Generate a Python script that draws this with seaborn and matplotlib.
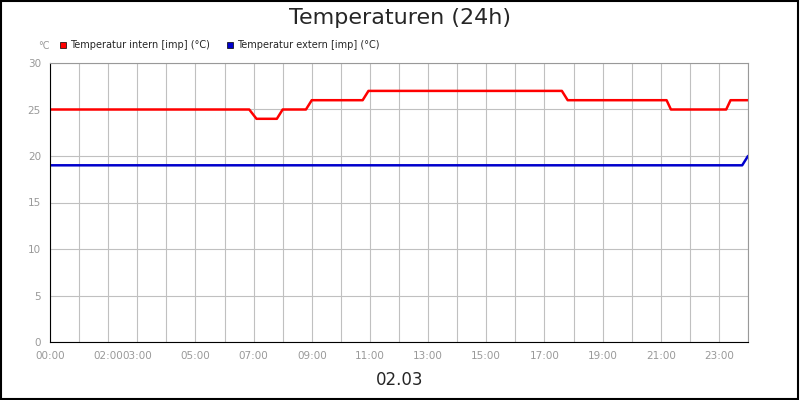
import matplotlib
matplotlib.use("Agg")
import matplotlib.pyplot as plt
import seaborn as sns
import pandas as pd

# hours since 00:00
intern_t = [0, 6.85, 7.1, 7.8, 8.0, 8.8, 9.0, 10.75, 10.95, 17.6, 17.8, 21.2, 21.35, 23.25, 23.4, 24.0]
intern_v = [25, 25, 24, 24, 25, 25, 26, 26, 27, 27, 26, 26, 25, 25, 26, 26]
extern_t = [0, 23.8, 24.0]
extern_v = [19, 19, 20]
tick_hours = [0, 2, 3, 5, 7, 9, 11, 13, 15, 17, 19, 21, 23]
tick_labels = [f"{h:02d}:00" for h in tick_hours]

sns.set_style("white")
plt.rcParams["font.family"] = ["DejaVu Sans"]

fig = plt.figure(figsize=(8, 4), dpi=100)
ax = fig.add_axes([50/800, 58/400, 698/800, 279/400])

df_i = pd.DataFrame({"t": intern_t, "v": intern_v})
df_e = pd.DataFrame({"t": extern_t, "v": extern_v})
sns.lineplot(data=df_i, x="t", y="v", ax=ax, color="#ff0000", lw=1.8, estimator=None, sort=False)
sns.lineplot(data=df_e, x="t", y="v", ax=ax, color="#0000cc", lw=1.8, estimator=None, sort=False)

ax.set_xlim(0, 24)
ax.set_ylim(0, 30)
ax.set_xticks(tick_hours)
ax.set_xticklabels(tick_labels)
ax.set_xticks(range(0, 25), minor=True)
ax.set_yticks(range(0, 31, 5))
ax.grid(True, which="both", axis="x", color="#c0c0c0", lw=0.8)
ax.grid(True, which="major", axis="y", color="#c0c0c0", lw=0.8)
ax.tick_params(axis="both", labelsize=7.5, colors="#999999", length=3)
ax.tick_params(axis="x", which="minor", length=3, colors="#999999")
ax.set_xlabel("")
ax.set_ylabel("")
for s in ["top", "right"]:
    ax.spines[s].set_color("#999999")
ax.spines["left"].set_color("#000000")
ax.spines["bottom"].set_color("#000000")

fig.text(0.5, 0.955, "Temperaturen (24h)", ha="center", va="center", fontsize=16)
fig.text(0.5, 0.05, "02.03", ha="center", va="center", fontsize=12)
fig.text(38/800, 1 - 46/400, "°C", fontsize=7, color="#999999", ha="left", va="center")

fig.patches.append(plt.Rectangle((60/800, 1 - 48/400), 6/800, 6/400, transform=fig.transFigure,
                                 facecolor="#ff0000", edgecolor="black", lw=0.5))
fig.text(70/800, 1 - 45/400, "Temperatur intern [imp] (°C)", fontsize=7, va="center")
fig.patches.append(plt.Rectangle((227/800, 1 - 48/400), 6/800, 6/400, transform=fig.transFigure,
                                 facecolor="#0000cc", edgecolor="black", lw=0.5))
fig.text(237/800, 1 - 45/400, "Temperatur extern [imp] (°C)", fontsize=7, va="center")

fig.patches.append(plt.Rectangle((0.001, 0.002), 0.997, 0.996, transform=fig.transFigure,
                                 fill=False, edgecolor="black", lw=1.5))
fig.savefig("out.png", dpi=100)
